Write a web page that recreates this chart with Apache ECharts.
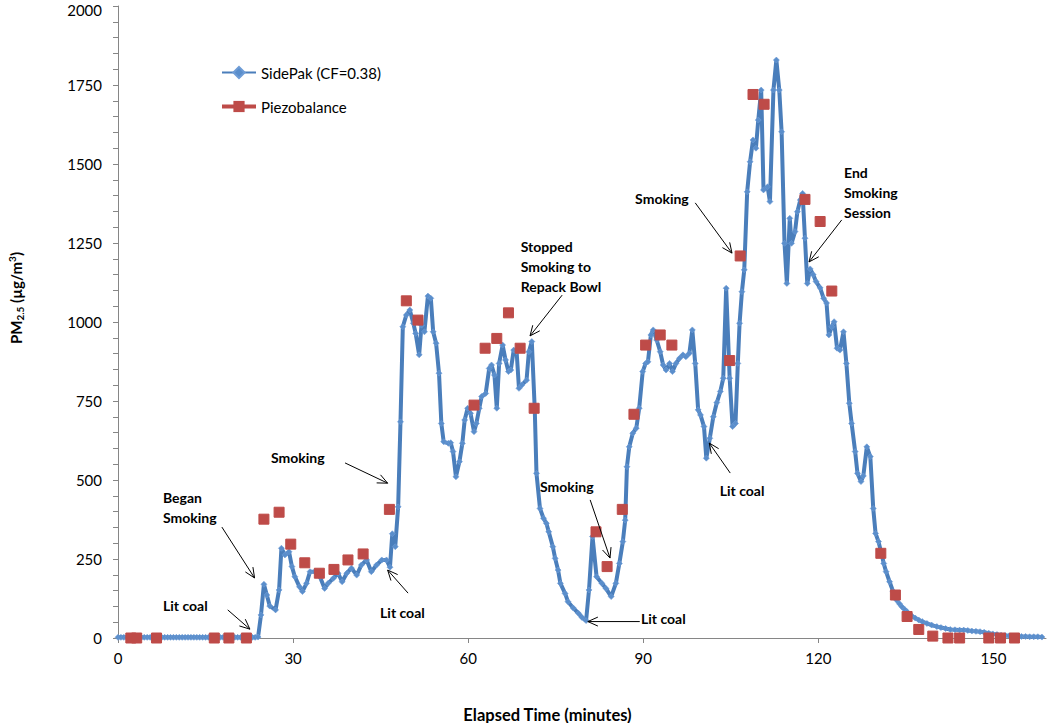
<!DOCTYPE html>
<html><head><meta charset="utf-8">
<script src="https://cdn.jsdelivr.net/npm/echarts@6/dist/echarts.min.js"></script>
<style>html,body{margin:0;padding:0;background:#fff}#c{width:1050px;height:723px}</style>
</head><body><div id="c"></div>
<script>
// ---- data ----
const sidePak = [
 [0,2],[0.5,2],[1,2],[1.5,2],[2,2],[2.5,2],[3,2],[3.5,2],[4,2],[4.5,2],[5,2],[5.5,2],
 [6,2],[6.5,2],[7,2],[7.5,2],[8,2],[8.5,2],[9,2],[9.5,2],[10,2],[10.5,2],[11,2],[11.5,2],
 [12,2],[12.5,2],[13,2],[13.5,2],[14,2],[14.5,2],[15,2],[15.5,2],[16,2],[16.5,2],[17,2],[17.5,2],
 [18,2],[18.5,2],[19,2],[19.5,2],[20,2],[20.5,2],[21,2],[21.5,2],[22,2],[22.5,2],[23,2],[23.5,2],
 [24.0,3],[24.5,73],[25.0,170],[25.5,136],[26.0,101],[27.0,89],[27.6,152],[28.0,284],[28.6,263],
 [29.3,273],[29.8,226],[30.3,194],[31.1,162],[31.6,147],[32.3,173],[32.9,210],[33.7,210],[34.6,194],
 [35.4,157],[36.0,173],[36.9,189],[37.7,205],[38.4,178],[39.2,205],[40.0,221],[40.9,199],[41.7,231],
 [42.6,247],[43.4,210],[44.3,231],[45.2,247],[46.0,247],[46.6,224],[47.0,330],[47.5,289],[48.0,415],
 [48.4,684],[48.8,985],[49.4,1022],[50.0,1038],[50.6,996],[51.0,964],[51.6,896],[52.0,990],[52.5,969],
 [53.1,1082],[53.6,1075],[54.0,969],[54.5,933],[55.0,838],[55.4,679],[55.8,621],[56.6,616],[57.0,618],
 [57.4,590],[57.9,510],[58.5,558],[59.0,616],[59.4,690],[59.9,727],[60.4,711],[61.0,653],[61.4,679],
 [61.9,727],[62.3,764],[63.0,774],[63.6,853],[64.0,864],[64.5,832],[64.9,727],[65.3,869],[65.9,927],
 [66.4,880],[66.9,843],[67.3,848],[67.8,911],[68.3,906],[68.7,790],[69.2,801],[70.0,816],[70.4,906],
 [70.9,938],[71.4,727],[71.7,521],[72.3,410],[72.9,379],[73.4,363],[73.8,336],[74.5,289],[74.9,252],
 [75.4,215],[75.8,173],[76.6,141],[77.1,115],[78.0,95],[78.9,78],[79.5,65],[80.2,55],[80.7,152],
 [81.3,321],[82.0,194],[82.9,173],[83.6,157],[84.5,131],[85.3,173],[85.9,236],[86.5,305],[86.9,373],
 [87.2,542],[87.6,605],[88.2,648],[88.8,664],[89.3,727],[89.9,843],[90.4,869],[90.8,874],[91.3,959],
 [91.7,975],[92.3,943],[92.9,906],[93.4,864],[93.9,848],[94.5,869],[95.0,843],[95.6,869],[96.2,885],
 [96.8,896],[97.3,890],[97.9,901],[98.4,975],[98.9,869],[99.4,722],[99.8,706],[100.4,669],[100.8,569],
 [101.4,632],[102.0,700],[102.6,745],[103.2,780],[103.7,822],[104.2,1107],[104.8,822],[105.3,669],
 [105.8,679],[106.2,869],[106.5,996],[106.9,1096],[107.3,1165],[107.8,1412],[108.3,1507],[108.8,1576],
 [109.3,1550],[109.7,1639],[110.2,1734],[110.6,1418],[111.3,1428],[111.7,1381],[112.3,1734],[112.8,1829],
 [113.3,1734],[113.7,1602],[114.2,1249],[114.6,1122],[115.1,1328],[115.4,1249],[116.0,1286],[116.4,1349],
 [116.9,1386],[117.3,1407],[117.7,1265],[118.1,1122],[118.6,1168],[119.1,1150],[119.6,1128],[120.3,1108],
 [120.9,1075],[121.4,1060],[121.8,959],[122.3,985],[122.7,1001],[123.2,917],[123.7,911],[124.3,969],
 [124.8,869],[125.3,743],[125.7,679],[126.3,590],[126.7,521],[127.3,495],[127.7,513],[128.3,605],
 [128.9,574],[129.4,410],[129.8,331],[130.3,305],[130.8,268],[131.2,236],[131.6,210],[132.2,178],
 [132.8,147],[133.4,120],[133.9,108],[134.3,99],[134.8,90],[135.2,83],[135.6,76],[136.0,70],[136.6,63],
 [137.2,57],[137.8,52],[138.6,46],[139.4,41],[140.3,36],[141.0,33],[141.8,30],[142.6,27],[143.4,26],
 [144.2,25],[144.9,25],[145.6,24],[146.3,22],[147.0,21],[147.7,20],[148.4,18],[149.2,15],[149.9,13],
 [150.6,11],[151.3,9],[152.0,8],[152.7,7],[153.4,6],[154.1,5],[154.8,5],[155.5,5],[156.2,4],[156.9,4],
 [157.6,4],[158.3,3]
];
const piezobalance = [
 [2.2,0],[3.2,0],[6.6,0],[16.5,0],[19.0,0],[22.0,0],[25.0,376],[27.6,398],[29.6,297],[32.0,238],
 [34.5,205],[37.0,217],[39.4,247],[42.0,266],[46.5,407],[49.4,1067],[51.4,1006],[61.0,737],[62.9,917],
 [64.9,948],[66.9,1029],[68.9,917],[71.3,727],[81.9,336],[83.8,226],[86.4,407],[88.4,708],[90.4,927],
 [92.9,959],[94.9,927],[104.8,878],[106.6,1209],[108.8,1720],[110.7,1689],[117.7,1388],[120.3,1318],
 [122.3,1098],[130.7,268],[133.2,136],[135.2,68],[137.2,27],[139.6,6],[142.2,0],[144.2,0],[149.2,0],
 [151.2,0],[153.6,0]
];
const seriesNames = ['SidePak (CF=0.38)', 'Piezobalance'];
const xTicks = [0, 30, 60, 90, 120, 150];
const yTicks = [0, 250, 500, 750, 1000, 1250, 1500, 1750, 2000];
const annotations = [
 {text:'Began\nSmoking', at:[7.7,413], from:[17.8,351], to:[23.4,190]},
 {text:'Lit coal', at:[7.7,104], from:[18.8,89], to:[22.6,28]},
 {text:'Smoking', at:[26.2,570], from:[38.9,554], to:[46.2,490]},
 {text:'Lit coal', at:[44.9,82], from:[49.7,142], to:[46.2,215]},
 {text:'Stopped\nSmoking to\nRepack Bowl', at:[69.0,1177], from:[76.1,1085], to:[70.6,956]},
 {text:'Smoking', at:[72.3,481], from:[80.9,437], to:[84.3,253]},
 {text:'Lit coal', at:[89.6,63], from:[89.4,52], to:[80.5,52]},
 {text:'Lit coal', at:[103.1,468], from:[104.9,522], to:[101.3,617]},
 {text:'Smoking', at:[88.6,1392], from:[98.9,1377], to:[105.2,1218]},
 {text:'End\nSmoking\nSession', at:[124.4,1411], from:[124.0,1323], to:[118.4,1190]}
];

// ---- chart ----
const FONT = 'Lato, "Open Sans", sans-serif';
const chart = echarts.init(document.getElementById('c'), null, {renderer:'svg'});
const blue = '#4A7EBB', red = '#BE4B48', axisGray = '#868686';
const yMax = yTicks[yTicks.length-1];
chart.setOption({
  animation:false,
  textStyle:{fontFamily:FONT},
  grid:{left:118, right:4, top:6, bottom:85, containLabel:false, outerBoundsMode:'none'},
  legend:{
    orient:'vertical', left:220, top:65, padding:0, itemWidth:34, itemHeight:14, itemGap:19,
    textStyle:{fontSize:15, color:'#000', fontFamily:FONT},
    data:[
      {name:seriesNames[0]},
      {name:seriesNames[1], lineStyle:{opacity:1, width:4, color:red}}
    ]
  },
  xAxis:{
    type:'value', min:0, max:159,
    axisLine:{lineStyle:{color:axisGray, width:1}},
    axisTick:{show:true, length:5, inside:false, customValues:xTicks, lineStyle:{color:axisGray}},
    axisLabel:{customValues:xTicks, fontSize:15, color:'#000', margin:12, fontFamily:FONT},
    splitLine:{show:false},
    name:'Elapsed Time (minutes)', nameLocation:'middle', nameGap:68,
    nameTextStyle:{fontSize:16.5, fontWeight:'bold', color:'#000', fontFamily:FONT, padding:[0,69,0,0]}
  },
  yAxis:{
    type:'value', min:yTicks[0], max:yMax, interval:250,
    axisLine:{show:true, lineStyle:{color:axisGray, width:1}},
    axisTick:{show:true, length:5, lineStyle:{color:axisGray}},
    minorTick:{show:true, splitNumber:5, length:5, lineStyle:{color:axisGray}},
    axisLabel:{fontSize:15, lineHeight:12, color:'#000', margin:16, fontFamily:FONT,
      formatter:(v) => v === yMax ? '{t|' + v + '}' : String(v),
      rich:{t:{fontSize:15, lineHeight:12, color:'#000', fontFamily:FONT, padding:[7,0,0,0]}}},
    splitLine:{show:false}, minorSplitLine:{show:false},
    name:'{a|PM}{s|2.5}{a| (µg/m}{p|3}{a|)}', nameLocation:'middle', nameGap:93, nameRotate:90,
    nameTextStyle:{
      padding:[0,0,0,48],
      rich:{
        a:{fontSize:15, fontWeight:'bold', color:'#000', lineHeight:18, fontFamily:FONT},
        s:{fontSize:10, fontWeight:'bold', color:'#000', lineHeight:12, verticalAlign:'bottom', fontFamily:FONT},
        p:{fontSize:10, fontWeight:'bold', color:'#000', lineHeight:12, verticalAlign:'top', fontFamily:FONT}
      }
    }
  },
  series:[
    {
      name:seriesNames[0], type:'line', data:sidePak, symbol:'diamond', symbolSize:6,
      showSymbol:true, lineStyle:{color:blue, width:4},
      itemStyle:{color:'#5A8ECB', borderColor:'#6E9CD6', borderWidth:0.6},
      emphasis:{disabled:true}, z:2
    },
    {
      name:seriesNames[1], type:'line', data:piezobalance, symbol:'rect', symbolSize:10,
      showSymbol:true, lineStyle:{opacity:0, width:0},
      itemStyle:{color:red, borderColor:red},
      emphasis:{disabled:true}, z:3
    }
  ]
});

function arrowHead(p, q, len, ang){
  const dx = p[0]-q[0], dy = p[1]-q[1];
  const d = Math.hypot(dx, dy) || 1;
  const ux = dx/d, uy = dy/d;
  const rot = (a) => [q[0] + len*(ux*Math.cos(a) - uy*Math.sin(a)), q[1] + len*(ux*Math.sin(a) + uy*Math.cos(a))];
  return [rot(ang), q, rot(-ang)];
}
const els = [];
annotations.forEach(a => {
  const at = chart.convertToPixel('grid', a.at);
  const p = chart.convertToPixel('grid', a.from);
  const q = chart.convertToPixel('grid', a.to);
  els.push({type:'text', x:at[0], y:at[1], silent:true, z:10,
    style:{text:a.text, fill:'#000', font:'bold 14px ' + FONT, lineHeight:20,
      align:'left', verticalAlign:'middle', textAlign:'left', textVerticalAlign:'middle'}});
  els.push({type:'polyline', silent:true, z:10, shape:{points:[p, q]}, style:{stroke:'#000', lineWidth:1, fill:null}});
  els.push({type:'polyline', silent:true, z:10, shape:{points:arrowHead(p, q, 11, 0.42)}, style:{stroke:'#000', lineWidth:1, fill:null}});
});
chart.setOption({graphic:{elements:els}});
</script></body></html>
